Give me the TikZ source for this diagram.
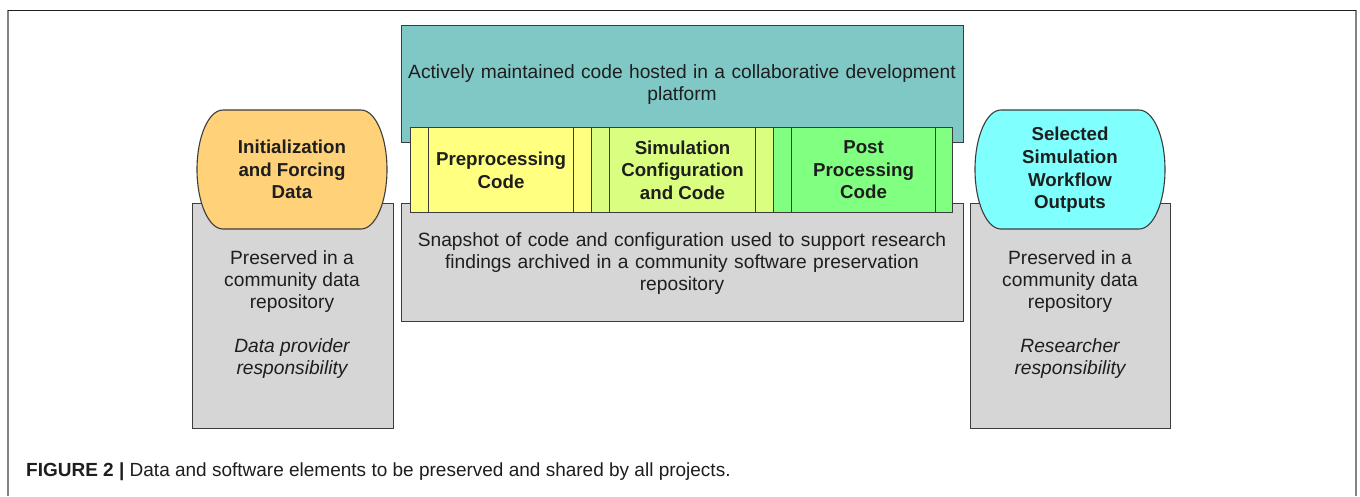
\documentclass[tikz,border=0pt]{standalone}
\usepackage{fontspec}
\setmainfont{Liberation Sans}
\definecolor{ink}{RGB}{30,30,30}
\definecolor{edge}{RGB}{60,60,60}
\definecolor{framegray}{RGB}{130,130,130}
\definecolor{devteal}{RGB}{128,200,198}
\definecolor{archgray}{RGB}{214,214,214}
\definecolor{preyellow}{RGB}{255,255,128}
\definecolor{simlime}{RGB}{218,255,128}
\definecolor{postgreen}{RGB}{128,255,128}
\definecolor{dataorange}{RGB}{255,210,122}
\definecolor{outcyan}{RGB}{128,255,255}
\begin{document}
\begin{tikzpicture}[x=1pt,y=1pt,
  box/.style={draw=edge,line width=1.1pt,inner sep=0pt,anchor=north west},
  body/.style={font=\fontsize{19.2}{22}\selectfont,align=center,text=ink},
  slant/.style={font=\fontsize{19.2}{22}\selectfont\itshape,align=center,text=ink},
  head/.style={font=\fontsize{18.7}{22.6}\selectfont\bfseries,align=center,text=ink},
  cell/.style={box,minimum height=85pt},
  terminal/.style={draw=edge,line width=1.1pt}
]
\useasboundingbox (0,0) rectangle (1360,-496);
\fill[white] (0,0) rectangle (1360,-496);

% page frame
\draw[framegray,line width=2pt] (8,-496) -- (8,-10);
\draw[framegray,line width=2pt] (1356,-496) -- (1356,-10);
\draw[ink,line width=1pt] (8,-10) -- (1356,-10);

% development platform and archive boxes
\node[box,fill=devteal,minimum width=562pt,minimum height=117pt] (dev) at (401,-25) {};
\node[body,text width=560pt] (devtext) at (682,-85) {Actively maintained code hosted in a collaborative development\\platform};
\node[box,fill=archgray,minimum width=562pt,minimum height=118pt] (arch) at (401,-203) {};
\node[body,text width=560pt] (archtext) at (682,-264) {Snapshot of code and configuration used to support research\\findings archived in a community software preservation\\repository};

% code strip
\node[cell,fill=preyellow,minimum width=18pt] (c1) at (410,-127) {};
\node[cell,fill=preyellow,minimum width=145pt] (pre) at (428,-127) {};
\node[cell,fill=preyellow,minimum width=18pt] (c2) at (573,-127) {};
\node[cell,fill=simlime,minimum width=18pt] (c3) at (591,-127) {};
\node[cell,fill=simlime,minimum width=146pt] (sim) at (609,-127) {};
\node[cell,fill=simlime,minimum width=18pt] (c4) at (755,-127) {};
\node[cell,fill=postgreen,minimum width=18pt] (c5) at (773,-127) {};
\node[cell,fill=postgreen,minimum width=144pt] (post) at (791,-127) {};
\node[cell,fill=postgreen,minimum width=17pt] (c6) at (935,-127) {};
\node[head] (pretext) at (pre.center) {Preprocessing\\Code};
\node[head] (simtext) at (sim.center) {Simulation\\Configuration\\and Code};
\node[head] (posttext) at (post.center) {Post\\Processing\\Code};

% data repositories
\node[box,fill=archgray,minimum width=201pt,minimum height=225pt] (leftrepo) at (192,-203) {};
\node[box,fill=archgray,minimum width=200pt,minimum height=225pt] (rightrepo) at (970,-203) {};
\node[body] (lefttext) at (292,-282) {Preserved in a\\community data\\repository};
\node[slant] (leftrole) at (292,-359) {Data provider\\responsibility};
\node[body] (righttext) at (1070,-282) {Preserved in a\\community data\\repository};
\node[slant] (rightrole) at (1070,-359) {Researcher\\responsibility};

% data terminals
\draw[terminal,fill=dataorange] (223,-110) -- (361,-110)
  arc[start angle=90,end angle=-90,x radius=26,y radius=59.5] -- (223,-229)
  arc[start angle=270,end angle=90,x radius=26,y radius=59.5] -- cycle;
\node[head] (init) at (292,-169.5) {Initialization\\and Forcing\\Data};
\draw[terminal,fill=outcyan] (1001,-110) -- (1139,-110)
  arc[start angle=90,end angle=-90,x radius=26,y radius=59.5] -- (1001,-229)
  arc[start angle=270,end angle=90,x radius=26,y radius=59.5] -- cycle;
\node[head] (outs) at (1070,-170) {Selected\\Simulation\\Workflow\\Outputs};

% caption
\node[anchor=base west,inner sep=0pt,font=\fontsize{19}{22}\selectfont,text=ink] (cap) at (26,-476) {\textbf{FIGURE 2 |} Data and software elements to be preserved and shared by all projects.};
\end{tikzpicture}
\end{document}
